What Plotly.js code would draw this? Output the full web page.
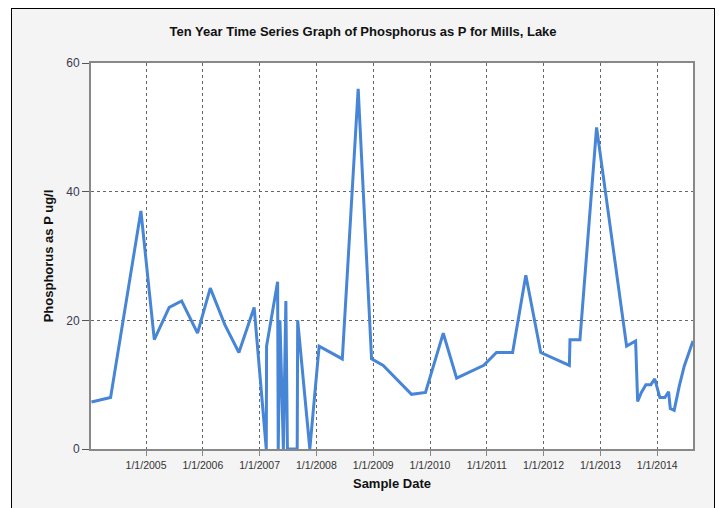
<!DOCTYPE html>
<html>
<head>
<meta charset="utf-8">
<script src="https://cdn.plot.ly/plotly-3.0.1.min.js"></script>
<style>
  html, body { margin: 0; padding: 0; background: #ffffff; overflow: hidden; }
  #frame { position: absolute; left: 11px; top: 8px; width: 702px; height: 520px;
           border: 1px solid #000; background: #f4f4f4; }
  #chart { position: absolute; left: 0; top: 0; width: 719px; height: 508px; }
</style>
</head>
<body>
<div id="frame"></div>
<div id="chart"></div>
<script>
// Sample dates and phosphorus values (ug/l)
var sampleDates = [
  '2004-01-16', '2004-05-18', '2004-11-29', '2005-02-23', '2005-05-30',
  '2005-08-18', '2005-11-28', '2006-02-18', '2006-05-23', '2006-08-21',
  '2006-11-27', '2007-02-13', '2007-02-15', '2007-04-27', '2007-05-01',
  '2007-05-12', '2007-06-03', '2007-06-19', '2007-06-29', '2007-08-31',
  '2007-09-03', '2007-11-20', '2008-01-19', '2008-06-16', '2008-09-26',
  '2008-12-21', '2009-03-06', '2009-09-04', '2009-12-03', '2010-03-27',
  '2010-06-21', '2010-12-13', '2011-03-04', '2011-06-16', '2011-09-09',
  '2011-12-14', '2012-06-15', '2012-06-19', '2012-08-22', '2012-12-07',
  '2013-06-18', '2013-08-15', '2013-08-28', '2013-09-21', '2013-10-20',
  '2013-11-21', '2013-12-16', '2014-01-18', '2014-02-19', '2014-03-15',
  '2014-03-26', '2014-04-20', '2014-05-23', '2014-06-24', '2014-08-19'
];
var phosphorus = [
  7.3, 8, 37, 17, 22,
  23, 18, 25, 19.3, 15,
  22, 0, 16, 26, 0,
  20, 0, 23, 0, 0,
  20, 0, 16, 14, 56,
  14, 13, 8.5, 8.8, 18,
  11, 13, 15, 15, 27,
  15, 13, 17, 17, 50,
  16, 16.8, 7.4, 8.8, 10,
  10, 10.9, 8, 8, 8.9,
  6.3, 6, 9.8, 12.9, 16.8
];
var xTickVals = ['2005-01-01', '2006-01-01', '2007-01-01', '2008-01-01', '2009-01-01',
                 '2010-01-01', '2011-01-01', '2012-01-01', '2013-01-01', '2014-01-01'];
var xTickText = ['1/1/2005', '1/1/2006', '1/1/2007', '1/1/2008', '1/1/2009',
                 '1/1/2010', '1/1/2011', '1/1/2012', '1/1/2013', '1/1/2014'];
var yTickVals = [0, 20, 40, 60];

var trace = {
  x: sampleDates,
  y: phosphorus,
  type: 'scatter',
  mode: 'lines',
  line: { color: '#4785d6', width: 3 },
  hoverinfo: 'x+y'
};

var fontFam = '"Liberation Sans", Arial, sans-serif';

var layout = {
  width: 719,
  height: 508,
  margin: { l: 91, r: 26, t: 63, b: 59 },
  paper_bgcolor: 'rgba(0,0,0,0)',
  plot_bgcolor: '#ffffff',
  showlegend: false,
  font: { family: fontFam, color: '#222' },
  title: {
    text: '<b>Ten Year Time Series Graph of Phosphorus as P for Mills, Lake</b>',
    font: { family: fontFam, size: 13, color: '#111' },
    xref: 'container', x: 0.505, xanchor: 'center',
    yref: 'container', y: 0.939, yanchor: 'middle'
  },
  xaxis: {
    type: 'date',
    range: ['2004-01-13', '2014-08-19'],
    tickmode: 'array',
    tickvals: xTickVals,
    ticktext: xTickText,
    tickfont: { family: fontFam, size: 10.5, color: '#333' },
    ticks: 'outside', ticklen: 5, tickcolor: '#888', tickwidth: 1,
    showgrid: true, gridcolor: '#666', griddash: 'dot', gridwidth: 1,
    showline: true, linecolor: '#888', linewidth: 2, mirror: true,
    zeroline: false,
    automargin: false,
    title: {
      text: '<b>Sample Date</b>',
      font: { family: fontFam, size: 13, color: '#111' },
      standoff: 9
    }
  },
  yaxis: {
    range: [0, 60],
    tickmode: 'array',
    tickvals: yTickVals,
    tickfont: { family: fontFam, size: 12, color: '#3a3a50' },
    ticks: 'outside', ticklen: 7, tickcolor: '#555', tickwidth: 1,
    showgrid: true, gridcolor: '#666', griddash: 'dot', gridwidth: 1,
    showline: true, linecolor: '#888', linewidth: 2, mirror: true,
    zeroline: false,
    automargin: false,
    title: {
      text: '<b>Phosphorus as P ug/l</b>',
      font: { family: fontFam, size: 13, color: '#111' },
      standoff: 10
    }
  }
};

Plotly.newPlot('chart', [trace], layout, { displayModeBar: false, staticPlot: true });
</script>
</body>
</html>
